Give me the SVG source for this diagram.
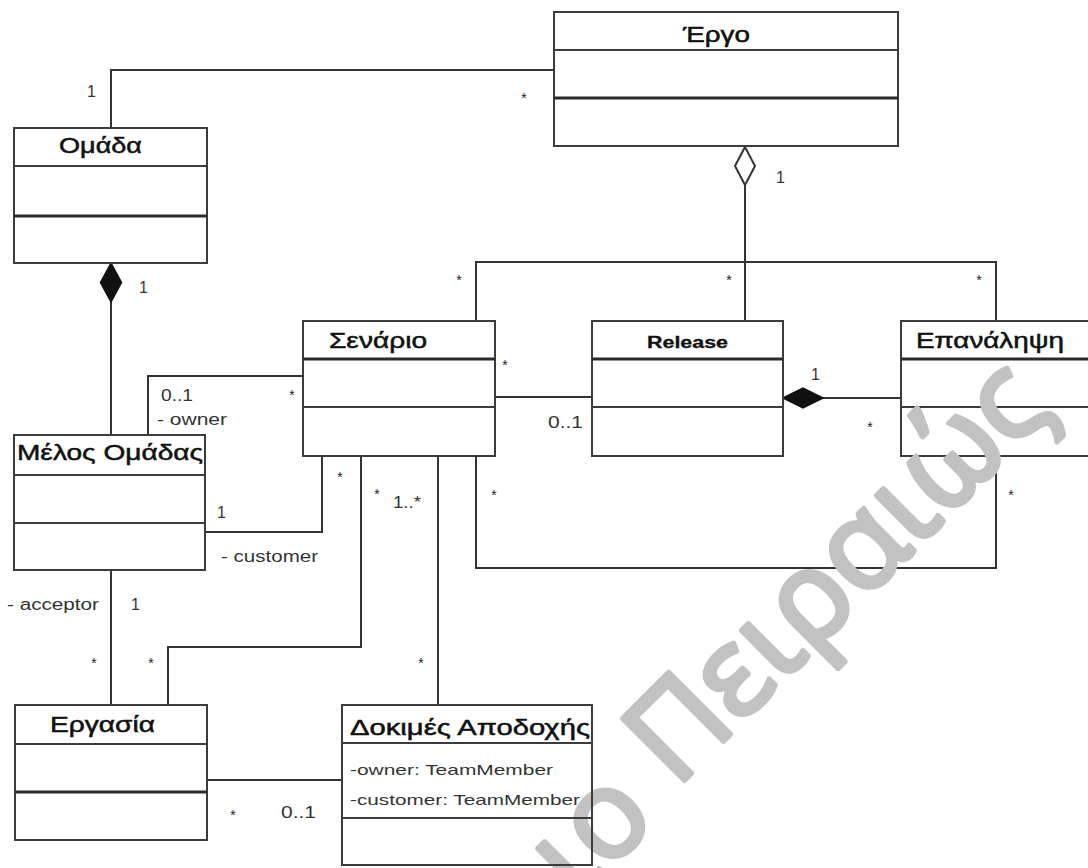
<svg xmlns="http://www.w3.org/2000/svg" width="1088" height="868" viewBox="0 0 1088 868">
<style>
.box{fill:#fff;stroke:#3c3c3c;stroke-width:2}
.dv{stroke:#3c3c3c;stroke-width:2}
.dv2{stroke:#2a2a2a;stroke-width:3}
.conn{fill:none;stroke:#333;stroke-width:2}
.title{font-family:"Liberation Sans",Arial,sans-serif;font-size:22px;fill:#111;stroke:#111;stroke-width:0.5}
.attr{font-family:"Liberation Sans",Arial,sans-serif;font-size:15px;fill:#333}
.lbl{font-family:"Liberation Sans",Arial,sans-serif;font-size:16px;fill:#333}
.ast{font-family:"Liberation Sans",Arial,sans-serif;font-size:14px;fill:#222;text-anchor:middle}
.wm{font-family:"Open Sans","Liberation Sans",sans-serif;font-size:123px;fill:#c2c2c2;stroke:#c2c2c2;stroke-width:5;stroke-linejoin:round}
</style>
<rect width="1088" height="868" fill="#fff"/>

<g id="connectors">
  <path class="conn" d="M111,128 V70 H554"/>
  <path class="conn" d="M111,302 V435"/>
  <path d="M111,263 L121.5,282.5 L111,302 L100.5,282.5 Z" fill="#111" stroke="#111" stroke-width="1.5"/>
  <path class="conn" d="M745,185 V321"/>
  <path class="conn" d="M476,321 V262 H996 V321"/>
  <path d="M745,147 L755,166 L745,185 L735,166 Z" fill="#fff" stroke="#333" stroke-width="2"/>
  <path class="conn" d="M148,435 V376 H303"/>
  <path class="conn" d="M205,532 H322 V456"/>
  <path class="conn" d="M495,397 H592"/>
  <path class="conn" d="M823,398 H901"/>
  <path d="M783,398 L803,388 L823,398 L803,408 Z" fill="#111" stroke="#111" stroke-width="1.5"/>
  <path class="conn" d="M476,456 V568 H996 V456"/>
  <path class="conn" d="M361,456 V647 H168 V705"/>
  <path class="conn" d="M438,456 V705"/>
  <path class="conn" d="M111,570 V705"/>
  <path class="conn" d="M207,780 H342"/>

  <text class="lbl" x="87" y="97">1</text>
  <text class="ast" x="524" y="103">*</text>
  <text class="lbl" x="776" y="183">1</text>
  <text class="lbl" x="139" y="293">1</text>
  <text class="ast" x="459" y="285">*</text>
  <text class="ast" x="729" y="285">*</text>
  <text class="ast" x="979" y="285">*</text>
  <text class="lbl" x="161" y="401" textLength="32" lengthAdjust="spacingAndGlyphs">0..1</text>
  <text class="lbl" x="157" y="425" textLength="70" lengthAdjust="spacingAndGlyphs">- owner</text>
  <text class="ast" x="292" y="400">*</text>
  <text class="lbl" x="217" y="518">1</text>
  <text class="lbl" x="221" y="562" textLength="97" lengthAdjust="spacingAndGlyphs">- customer</text>
  <text class="ast" x="340" y="482">*</text>
  <text class="ast" x="377" y="499">*</text>
  <text class="lbl" x="393" y="508" textLength="28" lengthAdjust="spacingAndGlyphs">1..*</text>
  <text class="ast" x="505" y="370">*</text>
  <text class="lbl" x="548" y="428" textLength="35" lengthAdjust="spacingAndGlyphs">0..1</text>
  <text class="lbl" x="811" y="380">1</text>
  <text class="ast" x="870" y="432">*</text>
  <text class="ast" x="494" y="500">*</text>
  <text class="ast" x="1011" y="500">*</text>
  <text class="lbl" x="7" y="610" textLength="92" lengthAdjust="spacingAndGlyphs">- acceptor</text>
  <text class="lbl" x="131" y="610">1</text>
  <text class="ast" x="94" y="668">*</text>
  <text class="ast" x="151" y="668">*</text>
  <text class="ast" x="421" y="668">*</text>
  <text class="ast" x="233" y="820">*</text>
  <text class="lbl" x="281" y="818" textLength="35" lengthAdjust="spacingAndGlyphs">0..1</text>
</g>

<g id="ergo">
  <rect class="box" x="554" y="12" width="344" height="134"/>
  <line class="dv" x1="554" y1="50" x2="898" y2="50"/>
  <line class="dv2" x1="554" y1="98" x2="898" y2="98"/>
  <text class="title" x="683" y="42" textLength="67" lengthAdjust="spacingAndGlyphs">Έργο</text>
</g>

<g id="omada">
  <rect class="box" x="14" y="128" width="193" height="135"/>
  <line class="dv" x1="14" y1="166" x2="207" y2="166"/>
  <line class="dv2" x1="14" y1="216" x2="207" y2="216"/>
  <text class="title" x="59" y="153" textLength="83" lengthAdjust="spacingAndGlyphs">Ομάδα</text>
</g>

<g id="melos">
  <rect class="box" x="14" y="435" width="191" height="135"/>
  <line class="dv" x1="14" y1="475" x2="205" y2="475"/>
  <line class="dv" x1="14" y1="523" x2="205" y2="523"/>
  <text class="title" x="17" y="460" textLength="186" lengthAdjust="spacingAndGlyphs">Μέλος Ομάδας</text>
</g>

<g id="senario">
  <rect class="box" x="303" y="321" width="192" height="135"/>
  <line class="dv2" x1="303" y1="359" x2="495" y2="359"/>
  <line class="dv" x1="303" y1="407" x2="495" y2="407"/>
  <text class="title" x="329" y="348" textLength="98" lengthAdjust="spacingAndGlyphs">Σενάριο</text>
</g>

<g id="release">
  <rect class="box" x="592" y="321" width="191" height="135"/>
  <line class="dv2" x1="592" y1="359" x2="783" y2="359"/>
  <line class="dv" x1="592" y1="407" x2="783" y2="407"/>
  <text class="title" x="647" y="348" style="font-size:16px;font-weight:bold;stroke-width:0.3" textLength="81" lengthAdjust="spacingAndGlyphs">Release</text>
</g>

<g id="epanalipsi">
  <rect x="901" y="321" width="187" height="135" fill="#fff"/>
  <path d="M1088,321 H901 V456 H1088" fill="none" stroke="#3c3c3c" stroke-width="2"/>
  <line class="dv2" x1="901" y1="359" x2="1088" y2="359"/>
  <line class="dv" x1="901" y1="407" x2="1088" y2="407"/>
  <text class="title" x="916" y="348" textLength="148" lengthAdjust="spacingAndGlyphs">Επανάληψη</text>
</g>

<g id="ergasia">
  <rect class="box" x="15" y="705" width="192" height="135"/>
  <line class="dv" x1="15" y1="744" x2="207" y2="744"/>
  <line class="dv2" x1="15" y1="792" x2="207" y2="792"/>
  <text class="title" x="50" y="732" textLength="105" lengthAdjust="spacingAndGlyphs">Εργασία</text>
</g>

<g id="watermark">
  <text class="wm" transform="translate(683,782) rotate(-45)"><tspan x="-160" y="10">ιο</tspan><tspan x="-10" y="0">Πειραιώς</tspan></text>
</g>

<g id="dokimes">
  <rect x="342" y="705" width="250" height="160" fill="none" stroke="#3c3c3c" stroke-width="2"/>
  <line class="dv" x1="342" y1="743" x2="592" y2="743"/>
  <line class="dv" x1="342" y1="818" x2="592" y2="818"/>
  <text class="title" x="350" y="735" textLength="240" lengthAdjust="spacingAndGlyphs">Δοκιμές Αποδοχής</text>
  <text class="attr" x="350" y="775" textLength="203" lengthAdjust="spacingAndGlyphs">-owner: TeamMember</text>
  <text class="attr" x="350" y="805" textLength="230" lengthAdjust="spacingAndGlyphs">-customer: TeamMember</text>
</g>
</svg>
